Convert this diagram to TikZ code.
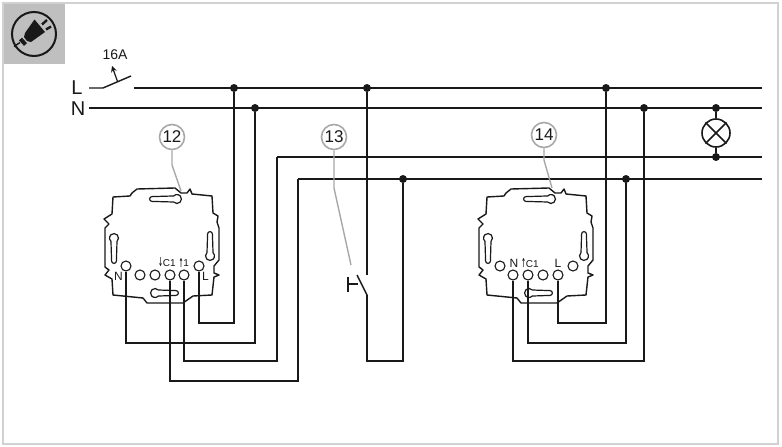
\documentclass[tikz,border=0pt]{standalone}
\usepackage{fontspec}
\usetikzlibrary{arrows.meta}
\setmainfont{Liberation Sans}
\newfontfamily\arrowfont{DejaVu Sans}
\definecolor{frameg}{gray}{0.82}
\definecolor{boxg}{gray}{0.75}
\definecolor{leadg}{gray}{0.66}
\definecolor{ink}{gray}{0.1}
\newcommand{\dnarrow}{\raisebox{-0.3pt}{\resizebox{4.5pt}{9pt}{\arrowfont\bfseries ↓}}}
\newcommand{\uparrowmark}{\raisebox{-0.3pt}{\resizebox{4.5pt}{9pt}{\arrowfont\bfseries ↑}}}
\tikzset{
  wire/.style={draw=ink,line width=1.55pt,line join=miter},
  thin wire/.style={draw=ink,line width=1.4pt},
  junction/.style={circle,fill=ink,draw=none,minimum size=8pt,inner sep=0pt},
  terminal/.style={circle,draw=ink,fill=white,line width=1.1pt,minimum size=10pt,inner sep=0pt},
  callout/.style={circle,draw=leadg,fill=white,line width=1.6pt,minimum size=25pt,inner sep=0pt,font=\fontsize{17}{17}\selectfont,text=ink},
  leader/.style={draw=leadg,line width=1.4pt},
  lbl/.style={inner sep=0pt,text=ink},
  big/.style={lbl,font=\fontsize{20}{20}\selectfont},
  termlbl/.style={lbl,font=\fontsize{12}{12}\selectfont},
  tiny/.style={lbl,font=\fontsize{10}{10}\selectfont},
  lamp/.style={circle,draw=ink,line width=1.6pt,minimum size=28pt,inner sep=0pt},
  slot/.style={draw=ink,line width=1.2pt,fill=white}
}
\newcommand{\keyslot}[4]{% x, y, rotation, length (small end at x,y, big circle toward the direction)
  \begin{scope}[shift={(#1,#2)},rotate=#3]
    \path[slot] (0,2.4) -- ({#4-3.4},3) arc[start angle=138,end angle=-138,radius=4.5] -- (0,-2.4) arc[start angle=-90,end angle=-270,radius=2.4] -- cycle;
  \end{scope}}
\newcommand{\plate}[1]{%
  \begin{scope}[shift={(#1,0)}]
    \draw[thin wire,line join=round] (113,197) -- (130,196) -- (132,193) -- (137,189) -- (175,188) -- (181,193) -- (187,193) -- (190,189) -- (192,194) -- (212,196) -- (213,213) -- (218,216) -- (217,222) -- (219,228) -- (219,260) -- (214,266) -- (214,273) -- (219,275) -- (214,277) -- (212,295) -- (193,296) -- (183,303) -- (147,303) -- (143,298) -- (113,295) -- (112,279) -- (105,275) -- (109,270) -- (105,267) -- (105,228) -- (109,224) -- (104,219) -- (112,214) -- cycle;
    \keyslot{152}{199}{0}{25}
    \keyslot{210}{234}{-90}{22}
    \keyslot{114}{261}{90}{23}
    \keyslot{176}{293}{180}{21}
  \end{scope}}
\begin{document}
\begin{tikzpicture}[x=1pt,y=-1pt]
\useasboundingbox (0,0) rectangle (782,447);
\fill[white] (0,0) rectangle (782,447);
\draw[frameg,line width=2pt] (3,3) rectangle (778,444);
\fill[boxg] (4,4) rectangle (65,64);

% plug icon
\draw[ink,line width=2pt] (34,34) circle[radius=22];
\fill[ink] (34.5,19.5) -- (45,32) -- (31,42) -- (27,41) -- (24,37) -- (25,33) -- cycle;
\draw[ink,line width=4pt] (20.5,39) -- (25.5,44.5);
\draw[ink,line width=2.4pt] (42,24.5) -- (47,20);
\draw[ink,line width=2.4pt] (46,29.5) -- (51,26.5);
\draw[ink,line width=1.4pt] (14,46.5) -- (20,42.5);

% junctions
\node[junction] (jL1) at (234,88) {};
\node[junction] (jL2) at (367,88) {};
\node[junction] (jL3) at (606,88) {};
\node[junction] (jN1) at (255,108) {};
\node[junction] (jN2) at (644,108) {};
\node[junction] (jN3) at (716,108) {};
\node[junction] (jA) at (716,157) {};
\node[junction] (jB1) at (403,179) {};
\node[junction] (jB2) at (626,179) {};

% bus ends
\coordinate (Lstart) at (134,88);
\coordinate (Lend) at (762,88);
\coordinate (Nstart) at (89,108);
\coordinate (Nend) at (762,108);
\coordinate (Astart) at (277,157);
\coordinate (Aend) at (762,157);
\coordinate (Bstart) at (298,179);
\coordinate (Bend) at (762,179);
\draw[wire] (Lstart) -- (Lend);
\draw[wire] (Nstart) -- (Nend);
\draw[wire] (Aend) -- (Astart);
\draw[wire] (Bend) -- (Bstart);

% main switch
\coordinate (sw0) at (89,88);
\coordinate (sw1) at (103,88);
\coordinate (sw2) at (131,76);
\coordinate (act0) at (117.5,81.5);
\coordinate (act1) at (112,66);
\draw[wire,line width=1.4pt] (sw0) -- (sw1) -- (sw2);
\draw[ink,line width=1.2pt,-{Stealth[length=6pt,width=6pt]}] (act0) -- (act1);
\node[lbl,font=\fontsize{14}{14}\selectfont] (fuse) at (115,55) {16A};
\node[big] (textL) at (77,88) {L};
\node[big] (textN) at (78,109) {N};

% lamp
\node[lamp] (lampX) at (716,133) {};
\draw[wire] (lampX.north west) -- (lampX.south east);
\draw[wire] (lampX.north east) -- (lampX.south west);
\draw[wire] (jN3) -- (lampX);
\draw[wire] (lampX) -- (jA);

% plates
\plate{0}
\plate{374}

% left device terminals
\node[terminal] (a1) at (126,266) {};
\node[terminal] (a2) at (140,275) {};
\node[terminal] (a3) at (155,275) {};
\node[terminal] (a4) at (170,275) {};
\node[terminal] (a5) at (184,275) {};
\node[terminal] (a6) at (199,266) {};
\node[termlbl] (a1t) at (118.5,276) {N};
\node[termlbl] (a6t) at (205.5,276) {L};
\node[tiny] (a4t) at (167,262.5) {\dnarrow C1};
\node[tiny] (a5t) at (184,262.5) {\uparrowmark 1};

% right device terminals
\node[terminal] (b1) at (500,266) {};
\node[terminal] (b2) at (513,275) {};
\node[terminal] (b3) at (528,275) {};
\node[terminal] (b4) at (543,275) {};
\node[terminal] (b5) at (558,275) {};
\node[terminal] (b6) at (573,266) {};
\node[termlbl] (b2t) at (514,263) {N};
\node[termlbl] (b5t) at (558,263) {L};
\node[tiny] (b3t) at (530,263) {\uparrowmark C1};

% left device wiring
\draw[wire] (jL1) -- (234,323) -| (a6);
\draw[wire] (jN1) -- (255,343) -| (a1);
\draw[wire] (Astart) -- (277,361) -| (a5);
\draw[wire] (Bstart) -- (298,381) -| (a4);

% right device wiring
\draw[wire] (jL3) -- (606,323) -| (b5);
\draw[wire] (jB2) -- (626,343) -| (b3);
\draw[wire] (jN2) -- (644,361) -| (b2);

% push button
\coordinate (pb0) at (367,275);
\coordinate (pb1) at (357,275);
\coordinate (pb2) at (367,295);
\coordinate (pb3) at (358,284);
\coordinate (pb4) at (348,284);
\coordinate (pb5) at (348,277);
\coordinate (pb6) at (348,292);
\draw[wire] (jL2) -- (pb0);
\draw[wire] (pb1) -- (pb2) -- (367,361) -| (jB1);
\draw[wire] (pb3) -- (pb4);
\draw[wire] (pb5) -- (pb6);

% callouts
\node[callout] (c12) at (172,137) {12};
\node[callout] (c13) at (334,137) {13};
\node[callout] (c14) at (544,135) {14};
\coordinate (l12) at (181,191);
\coordinate (l13) at (351,265);
\coordinate (l14) at (552,188);
\draw[leader] (c12) -- (172,165) -- (l12);
\draw[leader] (c13) -- (334,188) -- (l13);
\draw[leader] (c14) -- (544,160) -- (l14);
\end{tikzpicture}
\end{document}
